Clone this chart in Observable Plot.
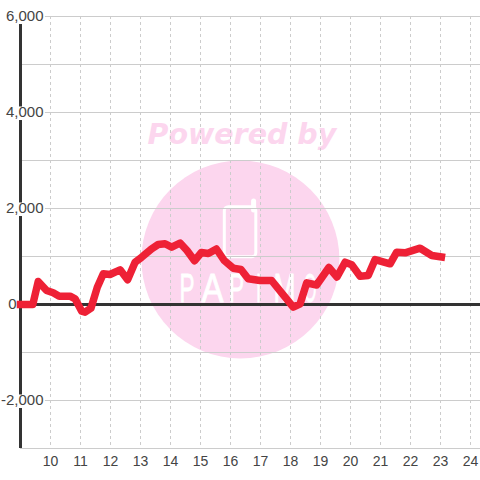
<!DOCTYPE html>
<html><head><meta charset="utf-8">
<style>html,body{margin:0;padding:0;background:#fff}svg{display:block}</style>
<script src="https://cdn.jsdelivr.net/npm/d3@7"></script>
<script src="https://cdn.jsdelivr.net/npm/@observablehq/plot@0.6"></script>
</head><body><div id="c"></div>
<script>
const hours=[9,9.41,9.59,9.87,10.09,10.29,10.65,10.82,11.04,11.15,11.35,11.56,11.76,11.98,12.32,12.57,12.82,13.04,13.37,13.59,13.82,14.04,14.32,14.55,14.8,15.03,15.26,15.53,15.79,16.09,16.35,16.59,16.98,17.37,18.09,18.32,18.54,18.87,19.28,19.55,19.82,20.04,20.32,20.59,20.82,21.32,21.54,21.82,22.32,22.71,23.03];
const values=[0,0,479,292,244,173,173,119,-140,-160,-77,360,640,625,723,515,881,985,1160,1250,1265,1194,1281,1125,910,1083,1062,1156,917,756,729,535,500,500,-56,15,452,406,771,573,881,827,590,604,937,848,1090,1077,1173,1021,990];
const xTicks=[10,11,12,13,14,15,16,17,18,19,20,21,22,23,24];
const yGrid=[6000,5000,4000,3000,2000,1000,-1000,-2000,-3000];
const yLabels=[6000,4000,2000,-2000];
const logoLetters=["P","A","P","I","M","O"];
const logoHours=[14.55,15.4,16.2,16.93,17.8,18.65];
const logoWidths=[15,22,15,5,22,13];
const fmt=d=>d.toLocaleString("en-US");
const series=hours.map((h,i)=>({h,v:values[i]}));
const plot=Plot.plot({
  width:480,height:480,marginLeft:20,marginRight:0,marginTop:16,marginBottom:32,
  x:{domain:[9,24.3333],axis:null},
  y:{domain:[-3000,6000],axis:null},
  style:{background:"#fff",fontFamily:"'Liberation Sans',sans-serif",overflow:"visible"},
  marks:[
    Plot.dot([{h:16.33,v:937}],{x:"h",y:"v",r:99,fill:"#fcd6ee",stroke:"none"}),
    Plot.text(["Powered by"],{x:()=>16.38,y:()=>3540,text:d=>d,fontSize:28.5,fontWeight:"bold",fontStyle:"italic",fontFamily:"'DejaVu Sans'",fill:"#fcd6ee",textAnchor:"middle"}),
    Plot.rect([{x1:15.81,x2:16.86,y1:985,y2:2027}],{x1:"x1",x2:"x2",y1:"y1",y2:"y2",rx:4,fill:"none",stroke:"#fff",strokeWidth:3}),
    Plot.ruleX([16.77],{y1:1958,y2:2146,stroke:"#fff",strokeWidth:5,strokeLinecap:"round"}),
    Plot.text(logoLetters,{className:"logo",x:(d,i)=>logoHours[i],y:()=>320,text:d=>d,fontSize:40,fontFamily:"'Liberation Sans'",fill:"#fff",stroke:"#fff",strokeWidth:0.8,textAnchor:"middle"}),
    Plot.ruleY(yGrid,{stroke:"#ccc",strokeWidth:1}),
    Plot.ruleX(xTicks,{stroke:"#ccc",strokeWidth:1,strokeDasharray:"3,3"}),
    Plot.ruleX([9],{y1:-3000,y2:6000,stroke:"#333",strokeWidth:3}),
    Plot.rect(yLabels,{x1:()=>8.33,x2:()=>9.83,y1:d=>d-167,y2:d=>d+115,fill:"#fff"}),
    Plot.ruleY([0],{stroke:"#333",strokeWidth:3}),
    Plot.line(series,{x:"h",y:"v",stroke:"#ee2136",strokeWidth:7.5,strokeLinecap:"square",strokeLinejoin:"round"}),
    Plot.text(yLabels,{x:()=>9,y:d=>d,text:d=>fmt(d),dx:23,textAnchor:"end",fontSize:15,fill:"#444"}),
    Plot.text([0],{x:()=>9,y:d=>d,text:d=>fmt(d),dx:-4,textAnchor:"end",fontSize:15,fill:"#444"}),
    Plot.text(xTicks,{x:d=>d,y:()=>-3000,text:d=>String(d),dy:13,fontSize:14,fill:"#444"})
  ]
});
d3.select(plot).selectAll(".logo text").each(function(d,i){
  this.setAttribute("lengthAdjust","spacingAndGlyphs");
  this.setAttribute("textLength",logoWidths[i]);
});
document.getElementById("c").append(plot);
</script></body></html>
